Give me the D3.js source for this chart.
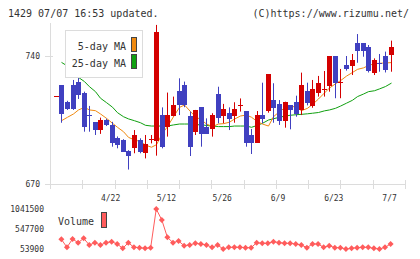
<!DOCTYPE html>
<html>
<head>
<meta charset="utf-8">
<script src="https://cdn.jsdelivr.net/npm/d3@7"></script>
<style>
    body { margin: 0; background: #fff; }
    text { font-family: "DejaVu Sans Mono", monospace; fill: #333; }
</style>
</head>
<body>
<div id="chart"></div>
<script>
// Trading days (2026), one per candle
let dates = ["4/8", "4/9", "4/10", "4/13", "4/14", "4/15", "4/16", "4/17", "4/20", "4/21",
    "4/22", "4/23", "4/24", "4/27", "4/28", "4/30", "5/1", "5/7", "5/8", "5/11",
    "5/12", "5/13", "5/14", "5/15", "5/18", "5/19", "5/20", "5/21", "5/22", "5/25",
    "5/26", "5/27", "5/28", "5/29", "6/1", "6/2", "6/3", "6/4", "6/5", "6/8",
    "6/9", "6/10", "6/11", "6/12", "6/15", "6/16", "6/17", "6/18", "6/19", "6/22",
    "6/23", "6/24", "6/25", "6/26", "6/29", "6/30", "7/1", "7/2", "7/3", "7/6", "7/7"];

let open = [718, 724.1, 714.7, 724.1, 726.0, 719.9, 707.6, 703.9, 699.5, 705.0,
    702.3, 695.0, 694.1, 688.1, 689.9, 694.1, 686.8, 694.5, 693.7, 707.7,
    701.0, 707.4, 721.0, 724.1, 707.2, 698.6, 712.0, 701.4, 699.9, 719.2,
    707.4, 708.7, 707.4, 713.2, 709.9, 696.8, 692.6, 707.7, 709.6, 715.9,
    713.8, 704.6, 713.2, 714.7, 710.5, 720.9, 712.8, 719.6, 721.8, 723.8,
    740.0, 725.5, 735.1, 734.7, 747.0, 747.0, 744.7, 730.5, 736.2, 740.0, 740.5];
let high = [718, 724.1, 715.5, 726.9, 729.1, 720.5, 712.7, 703.9, 706.3, 705.7,
    704.0, 696.0, 694.5, 688.5, 699.5, 695.0, 696.8, 696.8, 757.0, 711.9,
    720.0, 717.8, 727.8, 726.0, 709.6, 710.5, 712.0, 705.9, 708.7, 723.2,
    713.8, 711.9, 714.7, 716.8, 709.9, 700.1, 709.9, 725.4, 730.1, 725.1,
    715.9, 715.0, 713.2, 718.3, 730.9, 725.4, 726.9, 729.1, 731.8, 740.0,
    740.0, 732.9, 740.0, 741.1, 752.0, 747.0, 746.0, 738.7, 741.1, 742.4, 748.4];
let low = [718, 703.5, 710.5, 710.5, 716.5, 698.6, 698.6, 696.8, 697.4, 701.7,
    690.4, 689.5, 687.7, 677.9, 686.8, 686.8, 684.0, 692.2, 685.5, 689.5,
    695.9, 707.0, 707.7, 712.0, 685.3, 696.8, 690.4, 697.5, 695.9, 703.2,
    703.2, 699.5, 703.5, 709.6, 690.4, 686.4, 692.6, 703.2, 709.0, 703.5,
    702.3, 700.8, 699.9, 706.8, 707.7, 713.0, 711.7, 717.8, 717.8, 720.5,
    716.9, 716.9, 732.0, 729.6, 736.3, 739.6, 731.0, 729.6, 731.4, 731.0, 731.4];
let close = [718, 708.5, 710.8, 710.8, 718.9, 701.4, 706.8, 699.5, 705.0, 702.3,
    692.6, 691.3, 687.7, 685.5, 696.8, 687.7, 691.9, 694.8, 753.1, 690.4,
    707.7, 713.2, 713.2, 713.2, 690.4, 710.5, 697.5, 697.5, 707.7, 705.9,
    711.0, 705.6, 711.0, 713.4, 692.6, 692.6, 707.7, 705.6, 730.1, 711.4,
    704.6, 715.0, 710.5, 708.3, 724.1, 714.1, 721.9, 725.0, 722.0, 740.0,
    725.0, 725.7, 732.7, 737.8, 742.5, 742.4, 731.4, 737.8, 735.6, 732.3, 744.7];

// Moving averages as drawn (start on the second candle)
let ma5 = [null, 704.6, 706.5, 708.3, 710.5, 711.9, 710.5, 710.1, 708.3, 705.9,
    703.2, 701.0, 698.6, 695.5, 694.1, 693.2, 691.3, 690.1, 691.5, 697.7,
    701.4, 706.8, 711.9, 713.2, 709.6, 706.8, 705.0, 702.8, 701.4, 702.8,
    703.0, 703.8, 705.5, 707.2, 707.7, 706.5, 704.1, 702.8, 701.7, 706.8,
    709.6, 711.9, 712.7, 711.9, 710.1, 711.4, 713.5, 716.5, 719.8, 722.5,
    724.8, 726.5, 729.0, 731.0, 732.7, 733.5, 734.8, 735.8, 736.0, 736.2, 736.4];
let ma25 = [null, 736.5, 734.5, 731.5, 728.3, 726.0, 723.2, 720.5, 716.9, 714.5,
    712.0, 709.0, 706.8, 705.6, 704.6, 703.5, 702.1, 701.7, 701.7, 701.7,
    701.7, 702.3, 702.8, 702.8, 702.8, 702.4, 702.4, 702.0, 701.7, 701.4,
    701.4, 701.4, 701.7, 701.7, 701.7, 701.0, 702.1, 703.2, 705.0, 705.7,
    706.5, 707.2, 707.6, 707.9, 708.1, 708.4, 708.7, 709.1, 710.0, 710.5,
    711.4, 712.6, 714.2, 715.8, 717.8, 719.2, 720.5, 721.0, 722.0, 723.3, 725.2];

let volume = [null, 292600, 95100, 300500, 210300, 317300, 152700, 210300, 152700, 210300,
    234900, 177400, 70400, 210300, 95100, 86800, 70400, 86800, 1041500, 769900,
    342000, 210300, 251400, 136200, 152700, 193800, 177400, 152700, 95100, 152700,
    53900, 95100, 95100, 95100, 86800, 86800, 210300, 193800, 193800, 234900,
    210300, 193800, 193800, 177400, 152700, 86800, 177400, 177400, 95100, 136200,
    86800, 86800, 53900, 70400, 86800, 95100, 95100, 70400, 53900, 95100, 177400];

let dateTicks = ["4/22", "5/12", "5/26", "6/9", "6/23", "7/7"];
let priceTicks = [670, 740];
let volumeTicks = [53900, 547700, 1041500];

let upColor = "#d40000", downColor = "#4040c0";
let ma5Color = "#f08a10", ma25Color = "#10a010", volColor = "#ff5c5c";

let svg = d3.select("#chart").append("svg")
    .attr("width", 420)
    .attr("height", 259);

// Header texts
svg.append("text").attr("x", 8).attr("y", 17)
    .style("font-size", "10px").text("1429 07/07 16:53 updated.");
svg.append("text").attr("x", 409).attr("y", 17)
    .attr("text-anchor", "end")
    .style("font-size", "10px").text("(C)https://www.rizumu.net/");

// Scales
let x = d3.scalePoint().domain(dates).range([55.8, 390.6]);
let y = d3.scaleLinear().domain([670, 740]).range([184, 56]);
let grid = d3.scaleLinear().domain([0, 11]).range([50, 405]);
let yv = d3.scaleLinear().domain([53900, 1041500]).range([249, 209]);

let px = d => Math.round(x(d));
let idx = d3.range(dates.length);

// Axes frame
let axisG = svg.append("g").attr("stroke", "#dcdcdc").attr("stroke-width", 1);
axisG.append("line")
    .attr("x1", grid(0) + 0.5).attr("x2", grid(0) + 0.5)
    .attr("y1", 23).attr("y2", 189);
axisG.append("line")
    .attr("x1", 45).attr("x2", grid(11))
    .attr("y1", y(670) + 0.5).attr("y2", y(670) + 0.5);
axisG.append("line")
    .attr("x1", 45).attr("x2", 53)
    .attr("y1", y(740) + 0.5).attr("y2", y(740) + 0.5);
axisG.selectAll(".gtick")
    .data(d3.range(1, 12))
    .enter().append("line")
    .attr("class", "gtick")
    .attr("x1", d => Math.round(grid(d)) + 0.5).attr("x2", d => Math.round(grid(d)) + 0.5)
    .attr("y1", 180).attr("y2", 189);

// Y tick labels
svg.selectAll(".ylab")
    .data(priceTicks)
    .enter().append("text")
    .attr("class", "ylab")
    .attr("x", 40).attr("y", d => y(d) + 3)
    .attr("text-anchor", "end")
    .style("font-size", "8px")
    .text(d => d);

// Date labels
svg.selectAll(".xlab")
    .data(dateTicks)
    .enter().append("text")
    .attr("class", "xlab")
    .attr("x", d => x(d) - 1).attr("y", 201)
    .attr("text-anchor", "middle")
    .style("font-size", "8px")
    .text(d => d);

// Moving averages
let maLine = arr => d3.line()
    .defined(i => arr[i] != null)
    .x(i => px(dates[i]) + 0.5)
    .y(i => y(arr[i]));

svg.append("path").datum(idx)
    .attr("fill", "none").attr("stroke", ma25Color).attr("stroke-width", 1)
    .attr("d", maLine(ma25));
svg.append("path").datum(idx)
    .attr("fill", "none").attr("stroke", ma5Color).attr("stroke-width", 1)
    .attr("d", maLine(ma5));

// Candles
let candle = svg.selectAll(".candle")
    .data(idx)
    .enter().append("g")
    .attr("class", "candle")
    .attr("fill", i => close[i] >= open[i] ? upColor : downColor)
    .attr("stroke", i => close[i] >= open[i] ? upColor : downColor);

candle.append("line")
    .attr("x1", i => px(dates[i]) + 0.5).attr("x2", i => px(dates[i]) + 0.5)
    .attr("y1", i => y(high[i])).attr("y2", i => y(low[i]))
    .attr("stroke-width", 1);

candle.append("rect")
    .attr("stroke", "none")
    .attr("x", i => px(dates[i]) - 2)
    .attr("width", 5)
    .attr("y", i => Math.round(y(Math.max(open[i], close[i]))))
    .attr("height", i => Math.max(1, Math.round(Math.abs(y(open[i]) - y(close[i])))));

// Legend
let legend = svg.append("g");
legend.append("rect")
    .attr("x", 65.5).attr("y", 30.5).attr("width", 77).attr("height", 47)
    .attr("fill", "#fff").attr("stroke", "#dcdcdc");
[["5-day MA", ma5Color], ["25-day MA", ma25Color]].forEach(([label, color], k) => {
    legend.append("text")
        .attr("x", 126).attr("y", 50 + k * 17)
        .attr("text-anchor", "end")
        .style("font-size", "10px")
        .text(label);
    legend.append("rect")
        .attr("x", 131.5).attr("y", 37.5 + k * 17)
        .attr("width", 5).attr("height", 14)
        .attr("fill", color).attr("stroke", "#444");
});

// Volume
svg.selectAll(".vlab")
    .data(volumeTicks)
    .enter().append("text")
    .attr("class", "vlab")
    .attr("x", 44).attr("y", d => yv(d) + 3)
    .attr("text-anchor", "end")
    .style("font-size", "8px")
    .text(d => d);

svg.append("text").attr("x", 58).attr("y", 225)
    .style("font-size", "10px").text("Volume");
svg.append("rect")
    .attr("x", 101.5).attr("y", 212.5).attr("width", 5).attr("height", 15)
    .attr("fill", volColor).attr("stroke", "#444");

let volIdx = idx.filter(i => volume[i] != null);
svg.append("path").datum(volIdx)
    .attr("fill", "none").attr("stroke", volColor).attr("stroke-width", 1)
    .attr("d", d3.line().x(i => x(dates[i])).y(i => yv(volume[i])));

svg.selectAll(".vpt")
    .data(volIdx)
    .enter().append("path")
    .attr("class", "vpt")
    .attr("fill", volColor)
    .attr("transform", i => `translate(${x(dates[i])},${yv(volume[i])}) rotate(45)`)
    .attr("d", d3.symbol(d3.symbolSquare, 18));
</script>
</body>
</html>
